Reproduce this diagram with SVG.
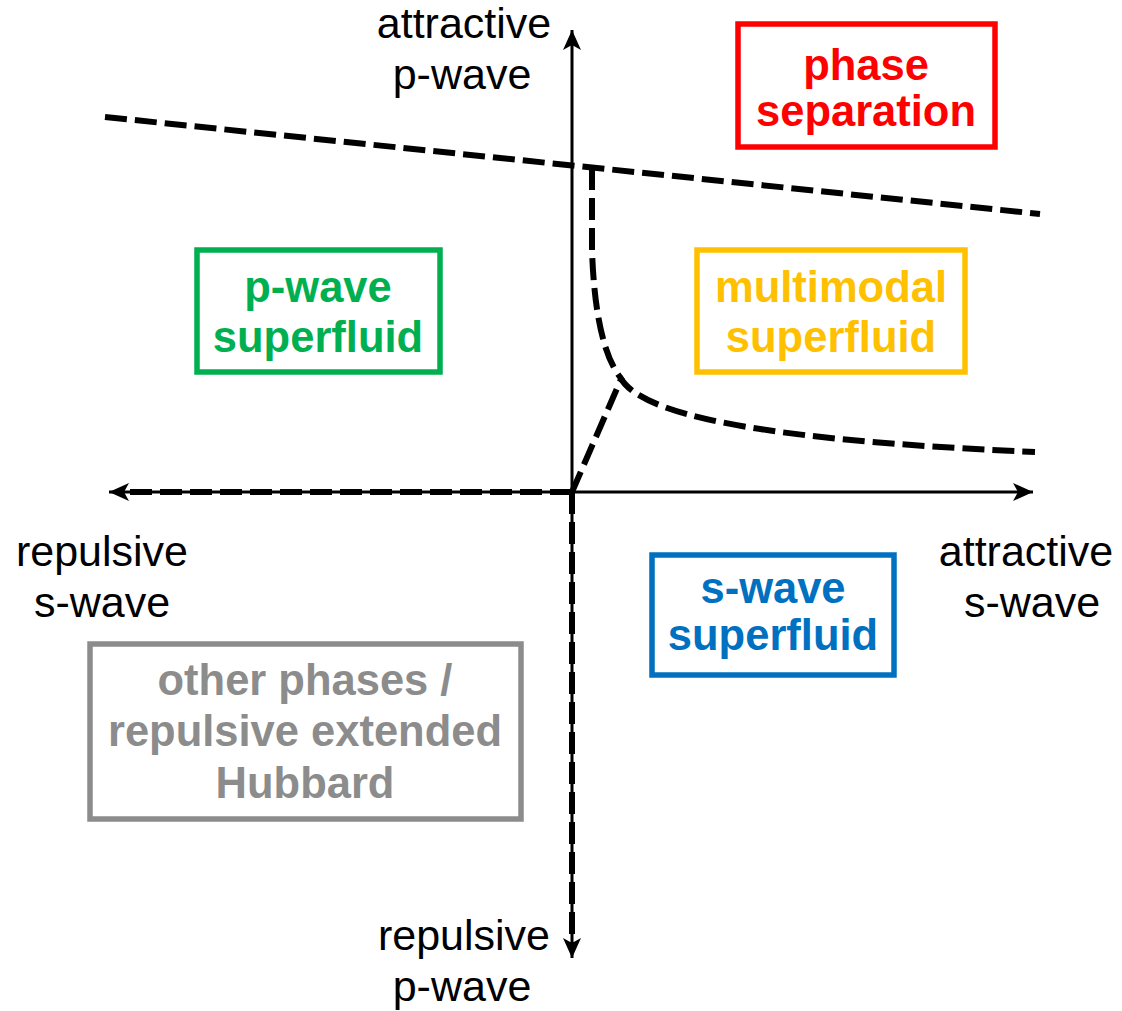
<svg xmlns="http://www.w3.org/2000/svg" width="1122" height="1011" viewBox="0 0 1122 1011">
  <style>
    .axis { stroke: #000; stroke-width: 3; fill: none; }
    .dash { stroke: #000; stroke-width: 6; fill: none; stroke-dasharray: 22 8; }
    .lbl { font-family: "Liberation Sans", Arial, sans-serif; font-size: 43px; fill: #000; text-anchor: middle; }
    .phase { font-family: "Liberation Sans", Arial, sans-serif; font-size: 43.5px; font-weight: bold; text-anchor: middle; }
    .box { fill: #fff; stroke-width: 5.5; }
  </style>
  <defs>
    <marker id="arrow" markerUnits="userSpaceOnUse" markerWidth="24" markerHeight="20" refX="20" refY="10" orient="auto">
      <path d="M0,1 L20,10 L0,19 L5,10 Z" fill="#000"/>
    </marker>
  </defs>
  <rect width="1122" height="1011" fill="#fff"/>

  <g id="connectors">
    <!-- coordinate axes -->
    <line class="axis" x1="572" y1="492" x2="572" y2="30" marker-end="url(#arrow)"/>
    <line class="axis" x1="572" y1="492" x2="572" y2="958" marker-end="url(#arrow)"/>
    <line class="axis" x1="572" y1="492" x2="1033" y2="492" marker-end="url(#arrow)"/>
    <line class="axis" x1="572" y1="492" x2="109" y2="492" marker-end="url(#arrow)"/>
    <!-- phase boundaries -->
    <line class="dash" x1="105" y1="117" x2="1040" y2="214"/>
    <path class="dash" d="M592,168 L592,250 C594,310 603,355 620,377 C640,415 760,440 1035,452"/>
    <line class="dash" x1="572" y1="492" x2="622" y2="377"/>
    <line class="dash" x1="572" y1="492" x2="122" y2="492"/>
    <line class="dash" x1="572" y1="492" x2="572" y2="945"/>
  </g>

  <g id="axis-labels">
    <text class="lbl" x="464" y="38">attractive</text>
    <text class="lbl" x="462" y="89">p-wave</text>
    <text class="lbl" x="102" y="566">repulsive</text>
    <text class="lbl" x="102" y="617">s-wave</text>
    <text class="lbl" x="1026" y="566">attractive</text>
    <text class="lbl" x="1032" y="617">s-wave</text>
    <text class="lbl" x="464" y="950">repulsive</text>
    <text class="lbl" x="462" y="1001">p-wave</text>
  </g>

  <g id="phase-separation">
    <rect class="box" x="738" y="24" width="257" height="123" stroke="#ff0000"/>
    <text class="phase" x="866" y="80" fill="#ff0000">phase</text>
    <text class="phase" x="866" y="126" fill="#ff0000">separation</text>
  </g>

  <g id="p-wave-superfluid">
    <rect class="box" x="197" y="250" width="243" height="122" stroke="#00b050"/>
    <text class="phase" x="318" y="302" fill="#00b050">p-wave</text>
    <text class="phase" x="318" y="352" fill="#00b050">superfluid</text>
  </g>

  <g id="multimodal-superfluid">
    <rect class="box" x="697" y="250" width="268" height="122" stroke="#ffc000"/>
    <text class="phase" x="831" y="302" fill="#ffc000">multimodal</text>
    <text class="phase" x="831" y="352" fill="#ffc000">superfluid</text>
  </g>

  <g id="s-wave-superfluid">
    <rect class="box" x="652" y="555" width="242" height="120" stroke="#0070c0"/>
    <text class="phase" x="773" y="603" fill="#0070c0">s-wave</text>
    <text class="phase" x="773" y="650" fill="#0070c0">superfluid</text>
  </g>

  <g id="other-phases">
    <rect class="box" x="90" y="644" width="431" height="175" stroke="#8c8c8c"/>
    <text class="phase" x="305" y="695" fill="#8c8c8c">other phases /</text>
    <text class="phase" x="305" y="746" fill="#8c8c8c">repulsive extended</text>
    <text class="phase" x="305" y="798" fill="#8c8c8c">Hubbard</text>
  </g>
</svg>
